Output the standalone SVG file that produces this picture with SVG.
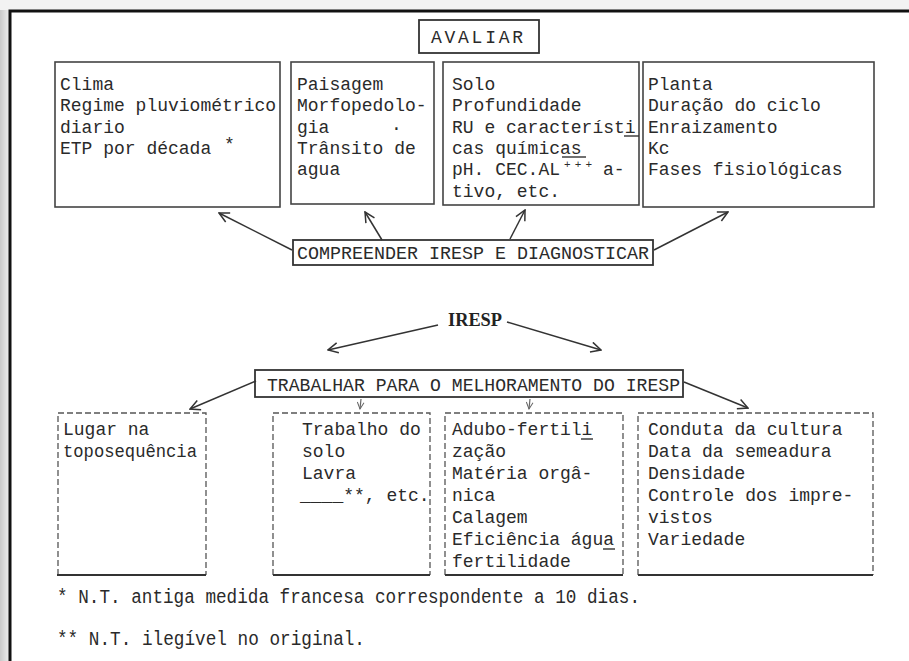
<svg xmlns="http://www.w3.org/2000/svg" width="909" height="661" viewBox="0 0 909 661">
<defs>
<linearGradient id="edge" x1="0" y1="0" x2="1" y2="0">
<stop offset="0" stop-color="#c8c8c8"/>
<stop offset="1" stop-color="#ececec"/>
</linearGradient>
<marker id="ah" viewBox="0 0 12 12" refX="11" refY="6" markerWidth="12" markerHeight="12" markerUnits="userSpaceOnUse" orient="auto">
<path d="M1,1 L11,6 L1,11" fill="none" stroke="#333" stroke-width="1.5"/>
</marker>
<marker id="ahs" viewBox="0 0 12 12" refX="11" refY="6" markerWidth="8" markerHeight="8" markerUnits="userSpaceOnUse" orient="auto">
<path d="M1,1 L11,6 L1,11" fill="none" stroke="#666" stroke-width="1.5"/>
</marker>
</defs>
<style>
.t{font-family:"Liberation Mono","DejaVu Sans Mono",monospace;font-size:18px;fill:#2a2a2a}
.cap{font-family:"Liberation Mono","DejaVu Sans Mono",monospace;font-size:18px;fill:#2a2a2a}
.sup{font-family:"Liberation Mono","DejaVu Sans Mono",monospace;font-size:11px;fill:#2a2a2a}
.fn{font-family:"Liberation Mono","DejaVu Sans Mono",monospace;font-size:20px;fill:#2a2a2a}
.box{fill:none;stroke:#444;stroke-width:1.6}
.hd{fill:none;stroke:#333;stroke-width:1.8}
.dsh{fill:none;stroke:#555;stroke-width:1.3;stroke-dasharray:6 3}
.bot{fill:none;stroke:#333;stroke-width:2}
.ul{stroke:#333;stroke-width:1.4}
.con{fill:none;stroke:#333;stroke-width:1.5;marker-end:url(#ah)}
.cons{fill:none;stroke:#666;stroke-width:1.2;marker-end:url(#ahs)}
</style>
<rect x="0" y="0" width="909" height="661" fill="#ffffff"/>
<rect x="0" y="0" width="9" height="661" fill="url(#edge)"/>
<rect x="0" y="0" width="909" height="10" fill="#f2f2f2"/>
<path d="M10,661 L10,11 L909,11" fill="none" stroke="#111" stroke-width="3"/>

<g id="avaliar">
<rect class="hd" x="419" y="20" width="120" height="33"/>
<text class="cap" x="431" y="43" textLength="92" lengthAdjust="spacing">AVALIAR</text>
</g>

<g id="clima">
<rect class="box" x="55" y="62" width="225" height="145"/>
<text class="t" x="60" y="90">Clima</text>
<text class="t" x="60" y="111.3">Regime pluviométrico</text>
<text class="t" x="60" y="132.6">diario</text>
<text class="t" x="60" y="153.9">ETP por década</text>
<text class="t" x="224" y="150">*</text>
</g>

<g id="paisagem">
<rect class="box" x="291" y="62" width="143" height="142"/>
<text class="t" x="297" y="90">Paisagem</text>
<text class="t" x="297" y="111.3">Morfopedolo-</text>
<text class="t" x="297" y="132.6">gia</text>
<text class="t" x="391" y="130">.</text>
<text class="t" x="297" y="153.9">Trânsito de</text>
<text class="t" x="297" y="175.2">agua</text>
</g>

<g id="solo">
<rect class="box" x="443" y="62" width="196" height="143"/>
<text class="t" x="452" y="90">Solo</text>
<text class="t" x="452" y="111.3">Profundidade</text>
<text class="t" x="452" y="132.6">RU e característi</text>
<line class="ul" x1="624" y1="136" x2="639" y2="136"/>
<text class="t" x="452" y="153.9">cas químicas</text>
<line class="ul" x1="562" y1="157" x2="586" y2="157"/>
<text class="t" x="452" y="175.2">pH. CEC.AL</text>
<text class="sup" x="564" y="168" textLength="28" lengthAdjust="spacing">+++</text>
<text class="t" x="603" y="175.2">a-</text>
<text class="t" x="452" y="196.5">tivo, etc.</text>
</g>

<g id="planta">
<rect class="box" x="643" y="62" width="231" height="145"/>
<text class="t" x="648" y="90">Planta</text>
<text class="t" x="648" y="111.3">Duração do ciclo</text>
<text class="t" x="648" y="132.6">Enraizamento</text>
<text class="t" x="648" y="153.9">Kc</text>
<text class="t" x="648" y="175.2">Fases fisiológicas</text>
</g>

<g id="compreender">
<rect class="hd" x="293" y="240" width="360" height="25"/>
<text class="cap" x="297" y="259" textLength="352" lengthAdjust="spacingAndGlyphs">COMPREENDER IRESP E DIAGNOSTICAR</text>
</g>

<g id="iresp">
<text x="448" y="326" font-family="'Liberation Serif','DejaVu Serif',serif" font-weight="bold" font-size="18" fill="#222" textLength="54" lengthAdjust="spacingAndGlyphs">IRESP</text>
</g>

<g id="trabalhar">
<rect class="hd" x="255" y="370" width="428" height="27"/>
<text class="cap" x="267" y="391" textLength="413" lengthAdjust="spacingAndGlyphs">TRABALHAR PARA O MELHORAMENTO DO IRESP</text>
</g>

<g id="lugar">
<path class="dsh" d="M58,575 L58,413 L206,413 L206,575"/>
<line class="bot" x1="57" y1="575" x2="206" y2="575"/>
<text class="t" x="63" y="435">Lugar na</text>
<text class="t" x="63" y="457" textLength="134" lengthAdjust="spacingAndGlyphs">toposequência</text>
</g>

<g id="trabalho">
<path class="dsh" d="M273,575 L273,413 L430,413 L430,575"/>
<line class="bot" x1="273" y1="575" x2="430" y2="575"/>
<text class="t" x="302" y="435">Trabalho do</text>
<text class="t" x="302" y="457">solo</text>
<text class="t" x="302" y="479">Lavra</text>
<text class="t" x="300" y="501">____**, etc.</text>
</g>

<g id="adubo">
<path class="dsh" d="M445,575 L445,413 L623,413 L623,575"/>
<line class="bot" x1="445" y1="575" x2="623" y2="575"/>
<text class="t" x="452" y="435">Adubo-fertili</text>
<line class="ul" x1="581" y1="439" x2="593" y2="439"/>
<text class="t" x="452" y="457">zação</text>
<text class="t" x="452" y="479">Matéria orgâ-</text>
<text class="t" x="452" y="501">nica</text>
<text class="t" x="452" y="523">Calagem</text>
<text class="t" x="452" y="545">Eficiência água</text>
<line class="ul" x1="603" y1="549" x2="615" y2="549"/>
<text class="t" x="452" y="567">fertilidade</text>
</g>

<g id="conduta">
<path class="dsh" d="M638,575 L638,413 L873,413 L873,575"/>
<line class="bot" x1="638" y1="575" x2="873" y2="575"/>
<text class="t" x="648" y="435">Conduta da cultura</text>
<text class="t" x="648" y="457">Data da semeadura</text>
<text class="t" x="648" y="479">Densidade</text>
<text class="t" x="648" y="501">Controle dos impre-</text>
<text class="t" x="648" y="523">vistos</text>
<text class="t" x="648" y="545">Variedade</text>
</g>

<g id="connectors">
<line class="con" x1="292" y1="250" x2="219" y2="213"/>
<line class="con" x1="382" y1="240" x2="365" y2="212"/>
<line class="con" x1="510" y1="239" x2="525" y2="210"/>
<line class="con" x1="654" y1="250" x2="728" y2="212"/>
<line class="con" x1="438" y1="325" x2="328" y2="350"/>
<line class="con" x1="507" y1="322" x2="601" y2="350"/>
<line class="con" x1="256" y1="381" x2="190" y2="409"/>
<line class="cons" x1="361" y1="399" x2="360" y2="409"/>
<line class="cons" x1="530" y1="399" x2="529" y2="409"/>
<line class="con" x1="684" y1="382" x2="748" y2="408"/>
</g>

<g id="footnotes">
<text class="fn" x="57" y="603" textLength="583" lengthAdjust="spacingAndGlyphs">* N.T. antiga medida francesa correspondente a 10 dias.</text>
<text class="fn" x="57" y="645" textLength="308" lengthAdjust="spacingAndGlyphs">** N.T. ilegível no original.</text>
</g>
</svg>
